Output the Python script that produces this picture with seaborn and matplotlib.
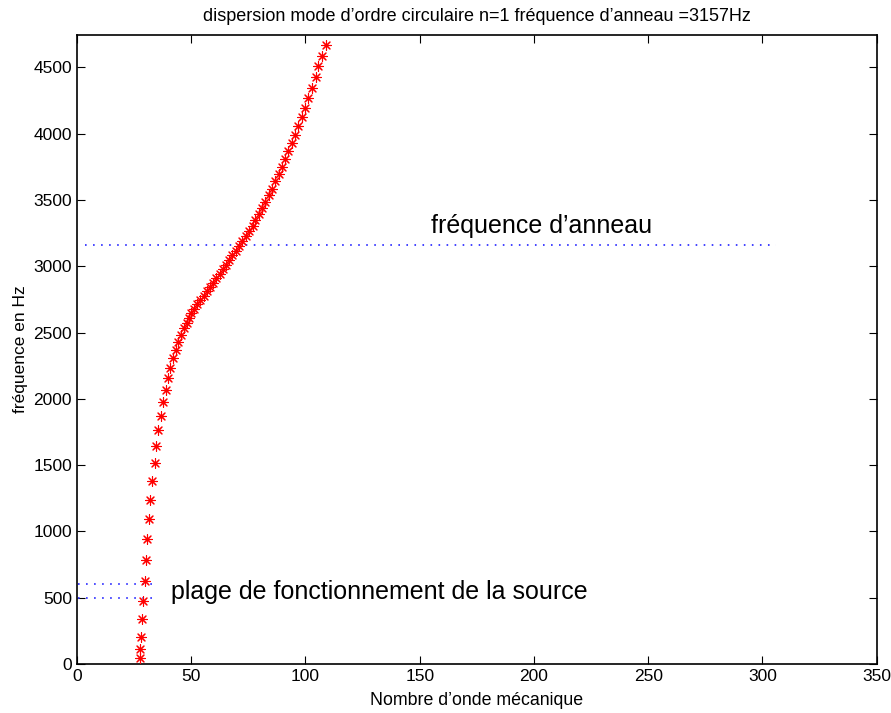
import matplotlib
matplotlib.use('Agg')
import matplotlib.pyplot as plt
import seaborn as sns
import pandas as pd

# wavenumber (x) and frequency (y)
nombre_onde = [27.4, 27.7, 27.9, 28.4, 29.0, 29.7, 30.2, 30.5, 31.4, 31.9,
               32.9, 34.0, 34.7, 35.5, 36.6, 37.6, 38.8, 39.8, 40.8, 42.1,
               43.3, 44.2, 45.5, 46.8, 48.0, 49.0, 50.0, 51.2, 52.6, 54.0,
               55.4, 56.8, 58.2, 59.6, 61.0, 62.4, 63.8, 65.2, 66.6, 68.0,
               69.4, 70.8, 72.3, 73.8, 75.3, 76.9, 78.0, 79.6, 80.9, 82.4,
               84.0, 85.2, 86.7, 88.2, 89.7, 91.1, 92.4, 94.1, 95.5, 96.7,
               98.4, 99.9, 101.2, 102.9, 104.4, 105.6, 107.3, 108.8]
frequence = [48, 111, 206, 338, 478, 629, 785, 942, 1093, 1239,
             1377, 1516, 1647, 1765, 1873, 1979, 2069, 2155, 2236, 2306,
             2372, 2427, 2483, 2535, 2573, 2611, 2644, 2679, 2712, 2745,
             2778, 2811, 2844, 2877, 2910, 2944, 2978, 3012, 3047, 3082,
             3118, 3154, 3190, 3227, 3264, 3303, 3346, 3391, 3436, 3484,
             3537, 3585, 3640, 3696, 3752, 3812, 3872, 3933, 3993, 4058,
             4129, 4197, 4273, 4348, 4424, 4507, 4587, 4670]

freq_anneau = 3157
anneau_x = [3.5, 306]
plage_x = [0.5, 35.5]
plage_y = [500, 600]

sns.set_style('ticks')
plt.rcParams['font.family'] = ['Liberation Sans', 'DejaVu Sans']
plt.rcParams['text.color'] = 'black'
plt.rcParams['axes.labelcolor'] = 'black'
plt.rcParams['xtick.color'] = 'black'
plt.rcParams['ytick.color'] = 'black'
plt.rcParams['axes.edgecolor'] = 'black'

fig = plt.figure(figsize=(8.91, 7.13), dpi=100)
ax = fig.add_axes([0.0864, 0.0687, 0.8976, 0.8823])

df = pd.DataFrame({'k': nombre_onde, 'f': frequence})
sns.scatterplot(data=df, x='k', y='f', marker=(8, 2, 0), s=50,
                color='red', edgecolor='red', linewidth=0.8, ax=ax, zorder=3)

# horizontal dotted lines
sns.lineplot(x=anneau_x, y=[freq_anneau, freq_anneau], color='blue',
             linewidth=1.3, ax=ax)
for yv in plage_y:
    sns.lineplot(x=plage_x, y=[yv, yv], color='blue', linewidth=1.3, ax=ax)
for ln in ax.get_lines():
    ln.set_dashes((0.9, 3.55))
    ln.set_color('#3333ff')

ax.text(155, 3305, "fréquence d’anneau", fontsize=18, va='center', ha='left')
ax.text(41, 545, "plage de fonctionnement de la source", fontsize=18,
        va='center', ha='left')

ax.set_xlim(0, 350)
ax.set_ylim(0, 4745)
ax.set_xticks(range(0, 351, 50))
ax.set_yticks(range(0, 4501, 500))
ax.tick_params(direction='in', top=True, right=True, labelsize=12.5,
               length=6, width=0.8)
for sp in ax.spines.values():
    sp.set_visible(True)
    sp.set_linewidth(1.2)

ax.set_title("dispersion mode d’ordre circulaire n=1 fréquence d’anneau =3157Hz",
             fontsize=13, pad=10)
ax.set_xlabel("Nombre d’onde mécanique", fontsize=12.8, labelpad=6)
ax.set_ylabel("fréquence en Hz", fontsize=12.5, labelpad=4)

fig.savefig('out.png', dpi=100)
